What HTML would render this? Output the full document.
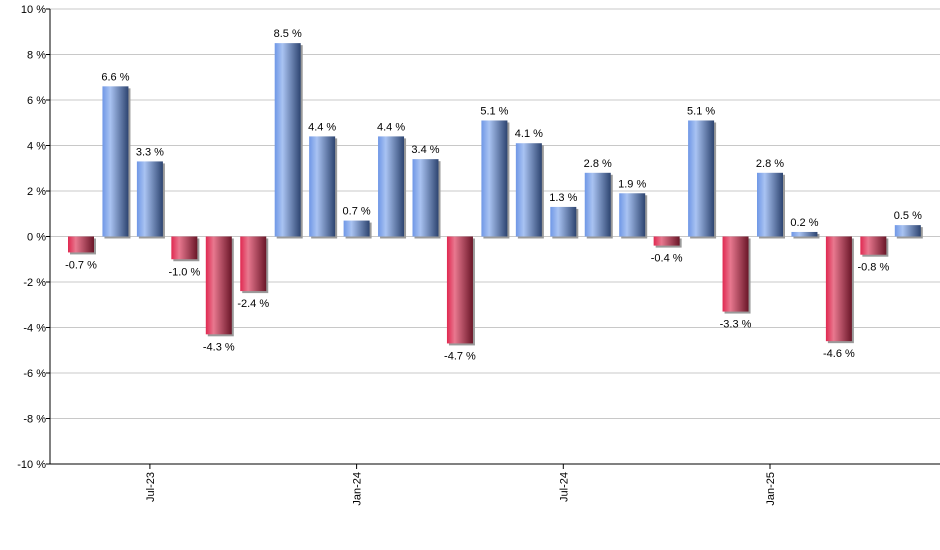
<!DOCTYPE html>
<html><head><meta charset="utf-8"><style>
body{margin:0;background:#fff;}
svg{display:block;font-family:"Liberation Sans",Arial,sans-serif;}
</style></head><body>
<svg id="chart" width="940" height="550" viewBox="0 0 940 550">
<defs>
<linearGradient id="gBlue" x1="0" x2="1" y1="0" y2="0">
<stop offset="0" stop-color="#6f97e6"/><stop offset="0.3" stop-color="#a9c3f2"/><stop offset="1" stop-color="#2d4470"/>
</linearGradient>
<linearGradient id="gRed" x1="0" x2="1" y1="0" y2="0">
<stop offset="0" stop-color="#e02850"/><stop offset="0.3" stop-color="#e8788f"/><stop offset="1" stop-color="#6a1628"/>
</linearGradient>
</defs>
<g id="grid"></g>
<g id="bars"></g>
<g id="axes"></g>
</svg>
<script>
const values = [-0.7, 6.6, 3.3, -1.0, -4.3, -2.4, 8.5, 4.4, 0.7, 4.4, 3.4, -4.7, 5.1, 4.1, 1.3, 2.8, 1.9, -0.4, 5.1, -3.3, 2.8, 0.2, -4.6, -0.8, 0.5];
const yTicks = [-10, -8, -6, -4, -2, 0, 2, 4, 6, 8, 10];
const xTickIndex = [2, 8, 14, 20];
const xTickLabels = ["Jul-23", "Jan-24", "Jul-24", "Jan-25"];

const NS = "http://www.w3.org/2000/svg";
const L = 50, R = 940, T = 9, B = 464;
const y = v => T + (10 - v) * (B - T) / 20;
const x = i => 81 + i * 34.45;
const BW = 26;
function mk(tag, attrs, parent){const e=document.createElementNS(NS,tag);for(const k in attrs)e.setAttribute(k,attrs[k]);parent.appendChild(e);return e;}
const grid=document.getElementById('grid'), bars=document.getElementById('bars'), axes=document.getElementById('axes');
yTicks.forEach(t=>{
  const g=mk('line',{x1:L,x2:R,y1:y(t),y2:y(t),stroke:'#c8c8c8','stroke-width':1},grid);
  
  
  const tk=mk('line',{x1:L-4,x2:L,y1:y(t),y2:y(t),stroke:'#000'},axes);
  
  
  const lb=mk('text',{x:L-4,y:y(t)+4,'text-anchor':'end','font-size':11,fill:'#000'},axes);
  lb.textContent=t+' %';
  
  
});
values.forEach((v,i)=>{
  const cx=x(i), y0=y(0), yv=y(v);
  const top=Math.min(y0,yv), h=Math.max(1,Math.abs(yv-y0));
  const sh=mk('rect',{x:cx-BW/2+2,y:top+2,width:BW,height:h,fill:'#9a9a9a'},bars);
  
  
  const r=mk('rect',{x:cx-BW/2,y:top,width:BW,height:h,fill:v>=0?'url(#gBlue)':'url(#gRed)'},bars);
  
  
  const lb=mk('text',{x:cx,y:v>=0?yv-6:yv+16,'text-anchor':'middle','font-size':11,fill:'#000'},bars);
  lb.textContent=v.toFixed(1)+' %';
  
  
});
const ya=mk('line',{x1:L,x2:L,y1:T,y2:B,stroke:'#000'},axes);


const xa=mk('line',{x1:L,x2:R,y1:B,y2:B,stroke:'#000'},axes);


xTickIndex.forEach((idx,k)=>{
  const cx=x(idx);
  const tk=mk('line',{x1:cx,x2:cx,y1:B,y2:B+5,stroke:'#000'},axes);
  
  
  const lb=mk('text',{x:0,y:0,'text-anchor':'end','font-size':11,fill:'#000',transform:`translate(${cx+4},${B+8}) rotate(-90)`},axes);
  lb.textContent=xTickLabels[k];
  
  
});
</script>
</body></html>
